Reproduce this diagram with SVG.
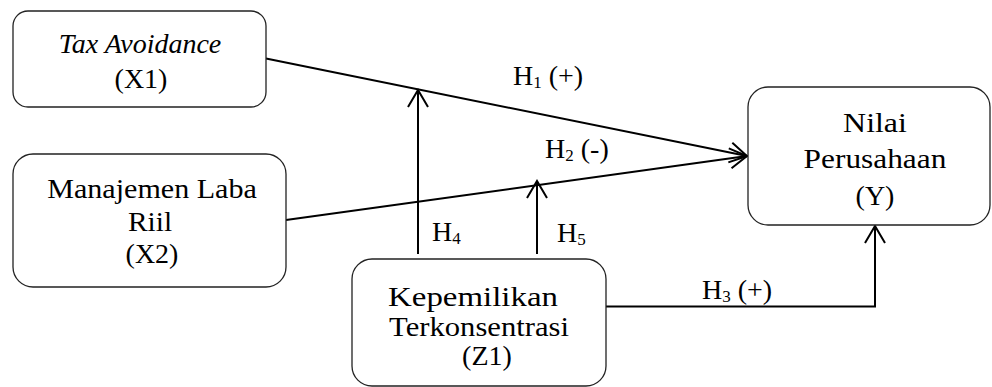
<svg xmlns="http://www.w3.org/2000/svg" width="992" height="387" viewBox="0 0 992 387">
<style>
.box{fill:#fff;stroke:#222;stroke-width:1.3}
.t{font-family:"Liberation Serif","Times New Roman",serif;font-size:28px;fill:#000;text-anchor:middle}
.lbl{font-family:"Liberation Serif","Times New Roman",serif;font-size:28px;fill:#000}
.sub{font-size:17px}
.conn{fill:none;stroke:#000;stroke-width:2}
</style>
<defs>
<marker id="arr" markerUnits="userSpaceOnUse" markerWidth="24" markerHeight="24" viewBox="-20 -12 24 24" refX="0" refY="0" orient="auto">
<path d="M -17 -10 L 0 0 L -17 10" fill="none" stroke="#000" stroke-width="2"/>
</marker>
</defs>
<rect width="992" height="387" fill="#fff"/>
<g id="connectors">
<path class="conn" d="M 266 58.5 L 747 156" marker-end="url(#arr)"/>
<path class="conn" d="M 286 220 L 747 156" marker-end="url(#arr)"/>
<path class="conn" d="M 418 254 L 418 90" marker-end="url(#arr)"/>
<path class="conn" d="M 537 254 L 537 181" marker-end="url(#arr)"/>
<path class="conn" d="M 606 306.5 H 875 V 226" marker-end="url(#arr)"/>
<text class="lbl" x="513" y="85">H<tspan class="sub" dy="3">1</tspan><tspan dy="-3"> (+)</tspan></text>
<text class="lbl" x="545" y="158">H<tspan class="sub" dy="3">2</tspan><tspan dy="-3"> (-)</tspan></text>
<text class="lbl" x="432" y="241">H<tspan class="sub" dy="3">4</tspan></text>
<text class="lbl" x="557" y="242">H<tspan class="sub" dy="3">5</tspan></text>
<text class="lbl" x="702" y="299">H<tspan class="sub" dy="3">3</tspan><tspan dy="-3"> (+)</tspan></text>
</g>
<g id="x1">
<rect class="box" x="13" y="11" width="253" height="96" rx="15"/>
<text class="t" x="140" y="53" font-style="italic">Tax Avoidance</text>
<text class="t" x="141" y="88">(X1)</text>
</g>
<g id="x2">
<rect class="box" x="13" y="154" width="273" height="133" rx="20"/>
<text class="t" transform="translate(152 198) scale(1.074 1)">Manajemen Laba</text>
<text class="t" transform="translate(150 231) scale(1.05 1)">Riil</text>
<text class="t" x="152" y="263">(X2)</text>
</g>
<g id="y">
<rect class="box" x="748" y="87" width="242" height="138" rx="20"/>
<text class="t" transform="translate(875 132) scale(1.14 1)">Nilai</text>
<text class="t" transform="translate(875 168) scale(1.12 1)">Perusahaan</text>
<text class="t" x="875" y="205">(Y)</text>
</g>
<g id="z1">
<rect class="box" x="352" y="259" width="254" height="127" rx="20"/>
<text class="t" transform="translate(473 306) scale(1.175 1)">Kepemilikan</text>
<text class="t" transform="translate(479 336) scale(1.094 1)">Terkonsentrasi</text>
<text class="t" x="487" y="365">(Z1)</text>
</g>
</svg>
